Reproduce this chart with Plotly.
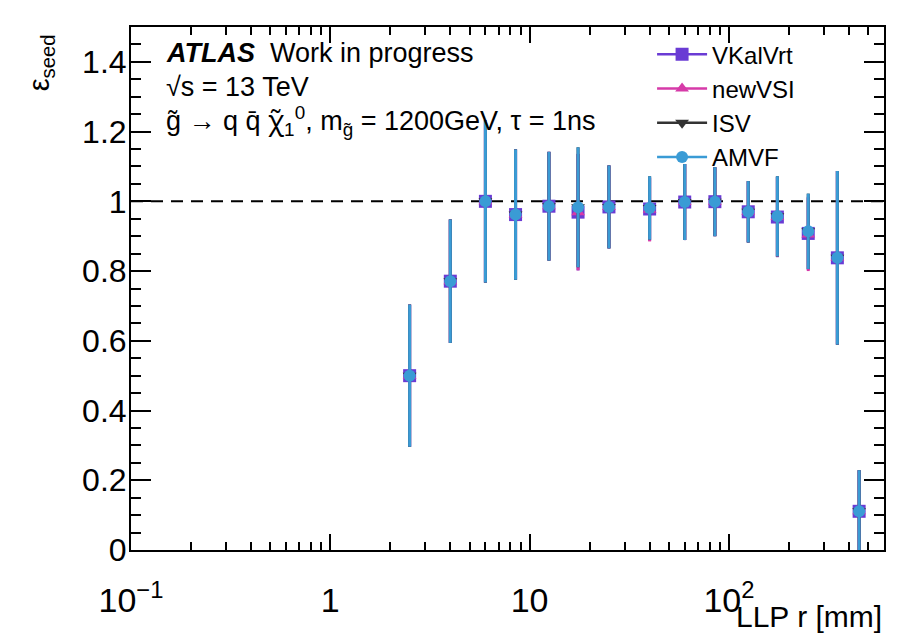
import plotly.graph_objects as go

# ---------------- data ----------------
r_centers = [2.5, 4, 6, 8.5, 12.5, 17.5, 25, 40, 60, 85, 125, 175, 250, 350, 450]

eff_vkalvrt = [0.500, 0.771, 1.000, 0.962, 0.986, 0.969, 0.984, 0.978, 0.998, 0.999, 0.970, 0.955, 0.908, 0.838, 0.111]
err_vkalvrt = [0.204, 0.177, 0.233, 0.187, 0.156, 0.167, 0.119, 0.091, 0.109, 0.099, 0.088, 0.115, 0.105, 0.249, 0.118]

eff_newvsi = [0.500, 0.771, 1.000, 0.962, 0.986, 0.969, 0.984, 0.976, 0.998, 0.999, 0.970, 0.955, 0.905, 0.838, 0.111]
err_newvsi = [0.204, 0.177, 0.233, 0.187, 0.156, 0.167, 0.119, 0.091, 0.109, 0.099, 0.088, 0.115, 0.105, 0.249, 0.118]

eff_isv = [0.500, 0.771, 1.000, 0.962, 0.986, 0.983, 0.984, 0.981, 0.998, 0.999, 0.970, 0.957, 0.914, 0.838, 0.111]
err_isv = [0.204, 0.177, 0.233, 0.187, 0.156, 0.172, 0.119, 0.091, 0.109, 0.099, 0.088, 0.115, 0.108, 0.249, 0.118]

eff_amvf = [0.500, 0.771, 1.000, 0.962, 0.986, 0.983, 0.984, 0.981, 0.998, 0.999, 0.970, 0.957, 0.914, 0.838, 0.111]
err_amvf = [0.204, 0.177, 0.233, 0.187, 0.156, 0.172, 0.119, 0.091, 0.109, 0.099, 0.088, 0.115, 0.108, 0.249, 0.118]

x_tickvals = [0.1, 1, 10, 100]
x_ticktext = ["10<sup>\u22121</sup>", "1", "10", "10<sup>2</sup>"]
x_minorvals = [0.2, 0.3, 0.4, 0.5, 0.6, 0.7, 0.8, 0.9,
               2, 3, 4, 5, 6, 7, 8, 9,
               20, 30, 40, 50, 60, 70, 80, 90,
               200, 300, 400, 500]
y_tickvals = [0, 0.2, 0.4, 0.6, 0.8, 1.0, 1.2, 1.4]
y_ticktext = ["0", "0.2", "0.4", "0.6", "0.8", "1", "1.2", "1.4"]

series = [
    ("VKalVrt", eff_vkalvrt, err_vkalvrt, "#6a3bd4", "square", 13),
    ("newVSI", eff_newvsi, err_newvsi, "#d63aa8", "triangle-up", 12),
    ("ISV", eff_isv, err_isv, "#333333", "triangle-down", 12),
    ("AMVF", eff_amvf, err_amvf, "#3a9bd5", "circle", 12),
]

FONT = "Liberation Sans, Arial, Helvetica, sans-serif"

fig = go.Figure()
for name, vals, errs, col, sym, sz in series:
    fig.add_trace(go.Scatter(
        x=r_centers, y=vals, mode="markers", name=name, showlegend=False,
        marker=dict(symbol=sym, size=sz, color=col, line=dict(width=0)),
        error_y=dict(type="data", array=errs, visible=True, color=col,
                     thickness=3, width=0),
    ))
for name, vals, errs, col, sym, sz in series:
    fig.add_trace(go.Scatter(
        x=[None], y=[None], mode="lines+markers", name=name, showlegend=True,
        marker=dict(symbol=sym, size=sz, color=col, line=dict(width=0)),
        line=dict(color=col, width=2.5),
    ))

fig.add_shape(type="line", xref="paper", yref="y", x0=0, x1=1, y0=1, y1=1,
              line=dict(color="black", width=2, dash="12px,8px"), layer="below")

fig.update_layout(
    width=899, height=636,
    margin=dict(l=131, r=15, t=27, b=86),
    paper_bgcolor="white", plot_bgcolor="white",
    font=dict(family=FONT, color="black"),
    showlegend=True,
    legend=dict(x=0.692, y=0.99, xanchor="left", yanchor="top",
                bgcolor="rgba(0,0,0,0)", font=dict(size=24, family=FONT),
                tracegroupgap=0, itemwidth=50),
)

fig.update_xaxes(
    type="log", range=[-1, 2.778],
    tickmode="array", tickvals=x_tickvals, ticktext=x_ticktext,
    tickfont=dict(size=34, family=FONT),
    ticks="inside", ticklen=16, tickwidth=2, tickcolor="black",
    showline=True, linecolor="black", linewidth=2, mirror="allticks",
    showgrid=False, zeroline=False, ticklabelstandoff=19,
    minor=dict(tickmode="array", tickvals=x_minorvals, ticks="inside",
               ticklen=8, tickwidth=2, tickcolor="black", showgrid=False),
)
fig.update_yaxes(
    range=[0, 1.5],
    tickmode="array", tickvals=y_tickvals, ticktext=y_ticktext,
    tickfont=dict(size=32, family=FONT),
    ticks="inside", ticklen=20, tickwidth=2, tickcolor="black",
    showline=True, linecolor="black", linewidth=2, mirror="allticks",
    showgrid=False, zeroline=False, ticklabelstandoff=-4,
    minor=dict(dtick=0.05, tick0=0, ticks="inside", ticklen=10, tickwidth=2,
               tickcolor="black", showgrid=False),
)

# texts
fig.add_annotation(xref="paper", yref="paper", x=0.044, y=0.982, xanchor="left", yanchor="top",
                   text="<b><i>ATLAS</i></b>  Work in progress", showarrow=False,
                   font=dict(size=27, family=FONT))
fig.add_annotation(xref="paper", yref="paper", x=0.044, y=0.918, xanchor="left", yanchor="top",
                   text="\u221as = 13 TeV", showarrow=False,
                   font=dict(size=27, family=FONT))
fig.add_annotation(xref="paper", yref="paper", x=0.044, y=0.862, xanchor="left", yanchor="top",
                   text="g\u0303 \u2192 q q\u0304 <span style=\"font-family:'Noto Sans'\">\u03c7\u0303</span><sub>1</sub><sup>0</sup>, m<sub>g\u0303</sub> = 1200GeV, \u03c4 = 1ns",
                   showarrow=False, font=dict(size=27, family=FONT))
fig.add_annotation(xref="paper", yref="paper", x=-0.12, y=0.99, xanchor="center", yanchor="top",
                   text="\u03b5<sub>seed</sub>", textangle=-90, showarrow=False,
                   font=dict(size=29, family=FONT))
fig.add_annotation(xref="paper", yref="paper", x=1.0, y=-0.127, xanchor="right", yanchor="middle",
                   text="LLP r [mm]", showarrow=False, font=dict(size=30, family=FONT))

fig.write_html("out.html", post_script="document.body.style.margin='0';",
               config={"displayModeBar": False})
